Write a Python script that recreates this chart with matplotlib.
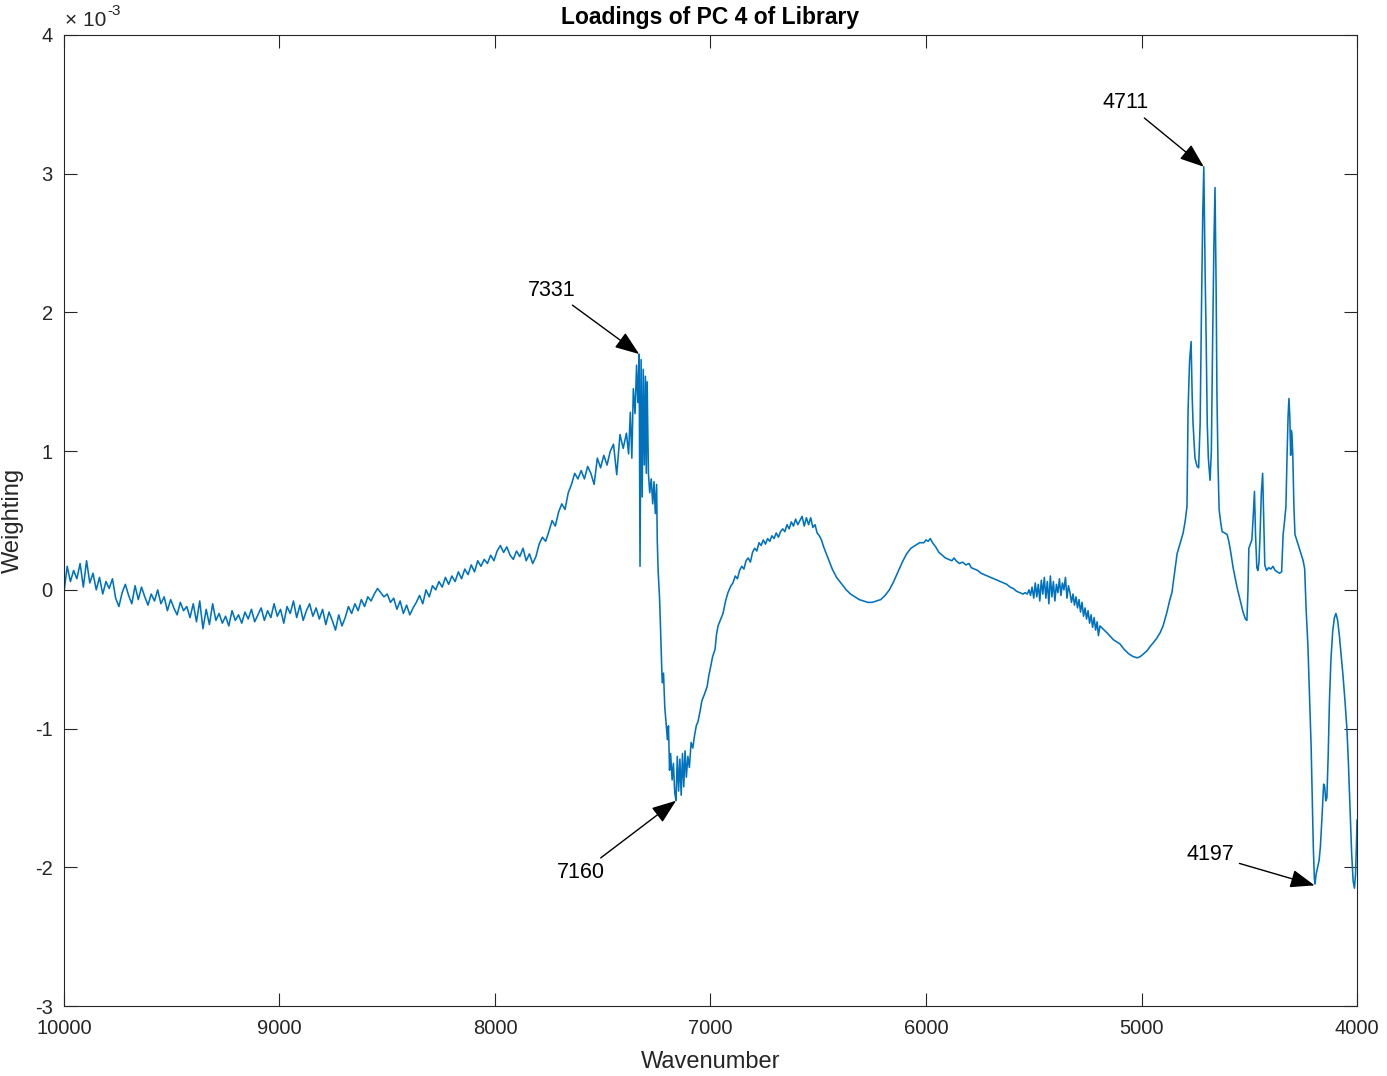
import numpy as np
import matplotlib
matplotlib.use('Agg')
import matplotlib.pyplot as plt
from matplotlib.ticker import FuncFormatter, MultipleLocator

plt.rcParams['font.family'] = ['Liberation Sans', 'DejaVu Sans']
plt.rcParams['axes.unicode_minus'] = False

# loadings, in units of 1e-3
# noisy part 10000 -> 7405 on a 15 cm-1 grid
left_step = 15
left_vals = [
    -0.02, 0.17, 0.06, 0.14, 0.08, 0.19, 0.02, 0.21, 0.05, 0.12,
    0.00, 0.09, -0.03, 0.06, 0.01, 0.08, -0.06, -0.12, -0.02, 0.04,
    -0.04, -0.10, 0.03, -0.07, 0.02, -0.05, -0.11, -0.03, -0.08, 0.00,
    -0.10, -0.05, -0.15, -0.07, -0.13, -0.18, -0.09, -0.15, -0.12, -0.20,
    -0.10, -0.23, -0.08, -0.28, -0.14, -0.25, -0.10, -0.22, -0.17, -0.24,
    -0.19, -0.26, -0.15, -0.22, -0.18, -0.24, -0.16, -0.21, -0.14, -0.23,
    -0.18, -0.13, -0.22, -0.15, -0.20, -0.10, -0.19, -0.14, -0.24, -0.12,
    -0.17, -0.08, -0.20, -0.11, -0.22, -0.15, -0.10, -0.19, -0.13, -0.21,
    -0.14, -0.25, -0.16, -0.22, -0.29, -0.18, -0.26, -0.20, -0.12, -0.17,
    -0.10, -0.15, -0.07, -0.12, -0.05, -0.08, -0.03, 0.01, -0.02, -0.05,
    -0.03, -0.09, -0.06, -0.14, -0.08, -0.17, -0.11, -0.18, -0.13, -0.09,
    -0.04, -0.10, 0.00, -0.05, 0.03, 0.00, 0.06, 0.02, 0.09, 0.04,
    0.10, 0.06, 0.13, 0.08, 0.15, 0.11, 0.18, 0.13, 0.21, 0.17,
    0.22, 0.19, 0.25, 0.21, 0.28, 0.32, 0.27, 0.31, 0.25, 0.22,
    0.28, 0.24, 0.30, 0.21, 0.26, 0.19, 0.24, 0.33, 0.38, 0.35,
    0.42, 0.50, 0.46, 0.56, 0.62, 0.58, 0.70, 0.76, 0.84, 0.80,
    0.86, 0.80, 0.89, 0.84, 0.76, 0.95, 0.88, 0.97, 0.90, 1.00,
    1.05, 0.83, 1.12, 1.02,
]

# (wavenumber, weighting*1e3)
seg_7331 = [
    (7390, 1.13), (7380, 0.98), (7372, 1.28), (7365, 0.95), (7358, 1.45),
    (7350, 1.27), (7343, 1.62), (7337, 1.35), (7331, 1.70), (7327, 0.17),
    (7322, 1.66), (7317, 0.67), (7312, 1.59), (7307, 0.90), (7302, 1.54),
    (7298, 0.84), (7294, 1.50), (7288, 0.84), (7282, 0.70), (7275, 0.80),
    (7268, 0.62), (7262, 0.78), (7256, 0.55), (7250, 0.76), (7247, 0.36),
    (7243, 0.14), (7236, -0.07), (7230, -0.36), (7224, -0.67), (7218, -0.60),
    (7212, -0.85), (7206, -0.96), (7200, -1.08), (7195, -0.98), (7190, -1.30),
    (7185, -1.18), (7178, -1.37), (7172, -1.25), (7166, -1.46), (7160, -1.52),
    (7154, -1.20), (7148, -1.45), (7142, -1.22), (7136, -1.48), (7130, -1.18),
    (7124, -1.42), (7118, -1.16), (7112, -1.35), (7105, -1.20), (7098, -1.28),
    (7090, -1.10), (7082, -1.14), (7074, -1.05), (7066, -0.98), (7058, -0.95),
    (7049, -0.88), (7040, -0.80), (7030, -0.76), (7016, -0.70), (7008, -0.62),
    (7000, -0.56), (6990, -0.48), (6979, -0.43), (6972, -0.32), (6965, -0.26),
    (6955, -0.22), (6942, -0.17), (6930, -0.08), (6919, -0.02), (6905, 0.03),
]
seg_6500 = [
    (6896, 0.05), (6885, 0.10), (6875, 0.08), (6865, 0.14), (6855, 0.17),
    (6845, 0.15), (6835, 0.21), (6825, 0.23), (6815, 0.20), (6805, 0.27),
    (6795, 0.30), (6785, 0.28), (6775, 0.34), (6765, 0.32), (6755, 0.36),
    (6745, 0.33), (6735, 0.37), (6725, 0.35), (6715, 0.39), (6705, 0.37),
    (6695, 0.41), (6685, 0.38), (6675, 0.42), (6665, 0.44), (6655, 0.42),
    (6645, 0.47), (6635, 0.44), (6625, 0.49), (6615, 0.46), (6605, 0.51),
    (6595, 0.47), (6585, 0.50), (6575, 0.53), (6565, 0.46), (6555, 0.52),
    (6545, 0.47), (6535, 0.52), (6525, 0.45), (6515, 0.47), (6505, 0.41),
    (6495, 0.39), (6485, 0.36), (6475, 0.31), (6465, 0.27), (6455, 0.23),
    (6445, 0.19), (6435, 0.15), (6425, 0.12), (6415, 0.09), (6405, 0.07),
    (6395, 0.05), (6385, 0.03), (6370, 0.00), (6350, -0.03), (6330, -0.05),
    (6310, -0.07), (6290, -0.08), (6270, -0.09), (6250, -0.09), (6230, -0.08),
    (6210, -0.07), (6190, -0.04), (6170, 0.00), (6150, 0.06), (6130, 0.13),
    (6110, 0.20), (6090, 0.26), (6070, 0.30), (6050, 0.32), (6030, 0.34),
    (6010, 0.34), (6000, 0.36), (5990, 0.35), (5980, 0.37), (5970, 0.34),
    (5955, 0.31), (5940, 0.27), (5925, 0.25), (5910, 0.23), (5895, 0.22),
    (5880, 0.21), (5870, 0.23), (5860, 0.21), (5845, 0.19), (5830, 0.20),
    (5815, 0.18), (5800, 0.19), (5790, 0.16), (5775, 0.15), (5760, 0.14),
    (5745, 0.12), (5730, 0.11), (5715, 0.10), (5700, 0.09), (5685, 0.08),
    (5670, 0.07), (5655, 0.06), (5640, 0.05), (5625, 0.04), (5610, 0.02),
    (5595, 0.01), (5580, -0.01), (5565, -0.02), (5550, -0.03), (5540, -0.02),
]
seg_5400 = [
    (5530, -0.03), (5522, 0.00), (5515, -0.04), (5508, 0.02), (5500, -0.06),
    (5493, 0.05), (5486, -0.05), (5479, 0.04), (5472, -0.08), (5465, 0.07),
    (5458, -0.03), (5451, 0.09), (5444, -0.06), (5437, 0.06), (5430, -0.10),
    (5423, 0.10), (5416, -0.05), (5409, 0.06), (5402, -0.08), (5395, 0.04),
    (5388, -0.02), (5381, 0.08), (5374, -0.04), (5367, 0.05), (5360, 0.00),
    (5353, 0.09), (5346, -0.06), (5339, 0.03), (5332, -0.02), (5325, -0.09),
    (5318, -0.03), (5311, -0.11), (5304, -0.05), (5297, -0.13), (5290, -0.07),
    (5283, -0.16), (5276, -0.09), (5269, -0.19), (5262, -0.13), (5255, -0.21),
    (5248, -0.15), (5241, -0.24), (5234, -0.18), (5227, -0.27), (5220, -0.20),
    (5213, -0.29), (5206, -0.23), (5200, -0.33), (5193, -0.26), (5160, -0.31),
    (5130, -0.36), (5100, -0.39), (5080, -0.43), (5060, -0.46), (5040, -0.48),
    (5020, -0.49), (5005, -0.48), (4990, -0.46), (4975, -0.44), (4961, -0.41),
    (4945, -0.38), (4930, -0.35), (4914, -0.31), (4900, -0.26), (4882, -0.16),
    (4870, -0.08), (4859, -0.02),
]
seg_4711 = [
    (4847, 0.12), (4835, 0.26), (4820, 0.34), (4807, 0.41), (4797, 0.50),
    (4789, 0.60), (4784, 1.30), (4777, 1.65), (4770, 1.79), (4765, 1.40),
    (4761, 1.20), (4752, 0.95), (4742, 0.89), (4735, 0.88), (4728, 1.20),
    (4722, 2.00), (4716, 2.70), (4711, 3.05), (4705, 2.30), (4700, 1.80),
    (4695, 1.20), (4690, 0.95), (4682, 0.79), (4676, 1.00), (4670, 1.80),
    (4664, 2.50), (4659, 2.90), (4654, 2.20), (4650, 1.40), (4645, 0.90),
    (4640, 0.58), (4632, 0.48), (4626, 0.42), (4615, 0.41), (4603, 0.40),
    (4595, 0.35), (4589, 0.30), (4575, 0.16), (4557, 0.02), (4543, -0.07),
    (4529, -0.16), (4518, -0.21), (4511, -0.22), (4506, 0.00), (4502, 0.30),
    (4495, 0.33), (4488, 0.36), (4481, 0.55), (4476, 0.71), (4471, 0.40),
    (4465, 0.16), (4460, 0.14), (4455, 0.20), (4450, 0.40), (4444, 0.70),
    (4438, 0.84), (4433, 0.50), (4428, 0.18), (4420, 0.14), (4410, 0.16),
    (4400, 0.15), (4390, 0.17), (4380, 0.14), (4370, 0.13), (4360, 0.12),
    (4350, 0.13), (4343, 0.40), (4336, 0.50), (4330, 0.60), (4325, 0.95),
    (4320, 1.25), (4316, 1.38), (4312, 1.25), (4308, 0.97), (4305, 1.15),
    (4302, 1.12), (4298, 0.97), (4293, 0.60), (4288, 0.40), (4280, 0.36),
    (4270, 0.31), (4260, 0.26), (4250, 0.21), (4243, 0.15),
]
seg_4197 = [
    (4236, -0.15), (4228, -0.40), (4220, -0.80), (4213, -1.13), (4208, -1.50),
    (4203, -1.85), (4198, -2.08), (4195, -2.12), (4190, -2.05), (4183, -2.00),
    (4176, -1.95), (4170, -1.85), (4163, -1.65), (4155, -1.40), (4150, -1.42),
    (4145, -1.52), (4140, -1.50), (4134, -1.20), (4128, -0.80), (4121, -0.50),
    (4113, -0.30), (4105, -0.20), (4098, -0.17), (4090, -0.22), (4082, -0.33),
    (4073, -0.48), (4065, -0.62), (4056, -0.80), (4047, -1.00), (4040, -1.25),
    (4033, -1.55), (4025, -1.90), (4018, -2.10), (4012, -2.15), (4007, -2.05),
    (4003, -1.85), (4000, -1.66),
]

# annotations: label, point (wn, w*1e3), text position (wn, w*1e3)
ann_labels = ['7331', '7160', '4711', '4197']
ann_points = [(7331, 1.70), (7160, -1.52), (4711, 3.05), (4197, -2.13)]
ann_text = [(7735, 2.16), (7601, -2.04), (5072, 3.51), (4682, -1.91)]

wn_left = 10000 - left_step * np.arange(len(left_vals))
pairs = np.array(seg_7331 + seg_6500 + seg_5400 + seg_4711 + seg_4197)
wn = np.concatenate([wn_left, pairs[:, 0]])
weight = np.concatenate([np.array(left_vals), pairs[:, 1]]) * 1e-3

axc = '#262626'
fig = plt.figure(figsize=(13.87, 10.76), dpi=100)
ax = fig.add_axes([0.0461, 0.065, 0.9323, 0.9025])
ax.plot(wn, weight, color='#0072BD', lw=1.15)

ax.set_xlim(10000, 4000)
ax.set_ylim(-3e-3, 4e-3)
ax.xaxis.set_major_locator(MultipleLocator(1000))
ax.yaxis.set_major_locator(MultipleLocator(1e-3))
ax.yaxis.set_major_formatter(FuncFormatter(lambda v, p: '%d' % round(v * 1e3)))

# MATLAB style exponent label
ax.text(0.001, 1.005, '\u00d7 10', transform=ax.transAxes, fontsize=15,
        color=axc, ha='left', va='bottom')
ax.text(0.0335, 1.017, '-3', transform=ax.transAxes, fontsize=11,
        color=axc, ha='left', va='bottom')

ax.tick_params(direction='in', length=9.5, width=0.8, colors=axc,
               labelsize=14.5, top=True, right=True)
ax.tick_params(axis='x', pad=9)
ax.tick_params(axis='y', pad=8)
for s in ax.spines.values():
    s.set_color(axc)
    s.set_linewidth(0.8)

ax.set_title('Loadings of PC 4 of Library', fontsize=16.5, fontweight='bold',
             color='k', pad=8)
ax.set_xlabel('Wavenumber', fontsize=17, color=axc, labelpad=10)
ax.set_ylabel('Weighting', fontsize=17, color=axc, labelpad=8)

for lab, (px, py), (tx, ty) in zip(ann_labels, ann_points, ann_text):
    ax.annotate(lab, xy=(px, py * 1e-3), xytext=(tx, ty * 1e-3),
                ha='center', va='center', fontsize=15.5, color='k',
                arrowprops=dict(arrowstyle='-|>,head_length=0.75,head_width=0.28',
                                color='k', lw=1.0, mutation_scale=20,
                                shrinkA=2, shrinkB=0))

fig.savefig('out.png', dpi=100)
